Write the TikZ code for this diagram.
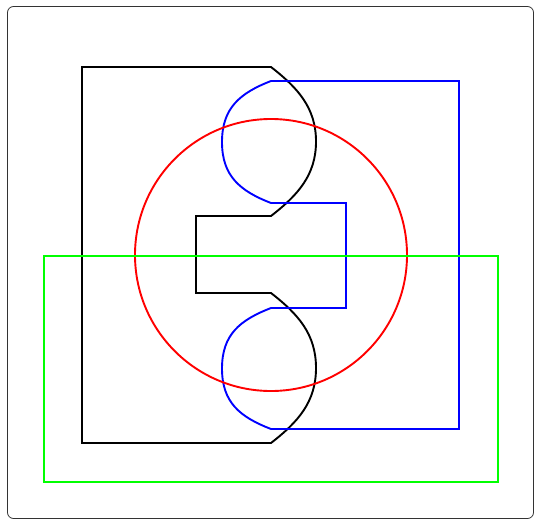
\documentclass[tikz,border=0pt]{standalone}
\begin{document}
\begin{tikzpicture}[x=1pt,y=-1pt,
  frame/.style={draw=black!80,line width=0.8pt,rounded corners=6pt},
  outl/.style={line width=1.9pt,line join=miter}]
\useasboundingbox (0,0) rectangle (534,519);
\draw[frame] (7.5,6.5) rectangle (533.5,518.5);
% black shape
\coordinate (b1) at (82,67);
\coordinate (b2) at (271,67);
\coordinate (bm1) at (316,141.5);
\coordinate (b3) at (271,216);
\coordinate (b4) at (196,216);
\coordinate (b5) at (196,293);
\coordinate (b6) at (271,293);
\coordinate (bm2) at (316,368);
\coordinate (b7) at (271,443);
\coordinate (b8) at (82,443);
\draw[outl,black] (b1) -- (b2)
  .. controls (298,88) and (316,108) .. (bm1)
  .. controls (316,175) and (298,195) .. (b3)
  -- (b4) -- (b5) -- (b6)
  .. controls (298,314) and (316,334) .. (bm2)
  .. controls (316,402) and (298,422) .. (b7)
  -- (b8) -- cycle;
% blue shape
\coordinate (u1) at (271,81);
\coordinate (u2) at (459,81);
\coordinate (u3) at (459,429);
\coordinate (u4) at (271,429);
\coordinate (um2) at (222,368.5);
\coordinate (u5) at (271,308);
\coordinate (u6) at (346,308);
\coordinate (u7) at (346,203);
\coordinate (u8) at (271,203);
\coordinate (um1) at (222,142);
\draw[outl,blue] (u1) -- (u2) -- (u3) -- (u4)
  .. controls (240,417) and (222,402.5) .. (um2)
  .. controls (222,334.5) and (240,320) .. (u5)
  -- (u6) -- (u7) -- (u8)
  .. controls (240,191) and (222,176) .. (um1)
  .. controls (222,108) and (240,93) .. (u1) -- cycle;
% red circle
\coordinate (c) at (271,255);
\draw[outl,red] (c) circle[radius=136];
% green rectangle
\coordinate (g1) at (44,256);
\coordinate (g2) at (498,482);
\draw[outl,green] (g1) rectangle (g2);
\end{tikzpicture}
\end{document}
